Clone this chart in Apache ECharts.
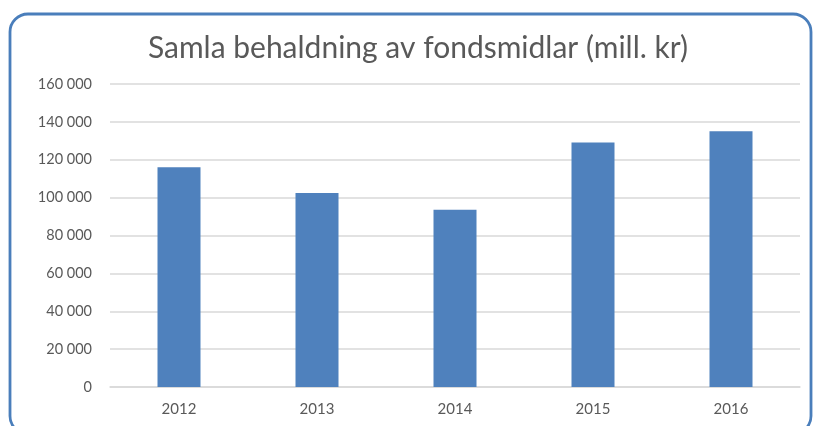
<!DOCTYPE html>
<html><head><meta charset="utf-8">
<script src="https://cdn.jsdelivr.net/npm/echarts@6/dist/echarts.min.js"></script>
<style>html,body{margin:0;padding:0;background:#fff}#c{width:815px;height:426px}</style>
</head><body><div id="c"></div>
<script>
var titleText = 'Samla behaldning av fondsmidlar (mill. kr)';
var categories = ['2012', '2013', '2014', '2015', '2016'];
var values = [116000, 102500, 93600, 129100, 135100];
var chart = echarts.init(document.getElementById('c'));
chart.setOption({
  animation: false,
  title: {
    text: titleText, left: 413, top: 28, textAlign: 'center',
    textStyle: {fontFamily: 'Lato', fontSize: 30, fontWeight: 'normal', color: '#595959'}
  },
  graphic: [{
    type: 'rect', z: 100, silent: true,
    shape: {x: 10, y: 14, width: 801, height: 420, r: 18},
    style: {fill: 'none', stroke: '#4A7EBB', lineWidth: 2.8}
  }],
  grid: {left: 110, right: 15, top: 84, bottom: 39, containLabel: false},
  xAxis: {
    type: 'category', data: categories,
    axisLine: {lineStyle: {color: '#D9D9D9', width: 1.5}},
    axisTick: {show: false},
    axisLabel: {fontFamily: 'Lato', fontSize: 15, color: '#595959', margin: 15}
  },
  yAxis: {
    type: 'value', min: 0, max: 160000, interval: 20000,
    axisLine: {show: false}, axisTick: {show: false},
    splitLine: {lineStyle: {color: '#D9D9D9', width: 1.5}},
    axisLabel: {
      fontFamily: 'Lato', fontSize: 14.5, color: '#595959', margin: 18,
      formatter: function (v) { return v === 0 ? '0' : String(v).replace(/\B(?=(\d{3})+(?!\d))/g, ' '); }
    }
  },
  series: [{
    type: 'bar', data: values, barWidth: 43,
    itemStyle: {color: '#4F81BD'}
  }]
});
</script></body></html>
